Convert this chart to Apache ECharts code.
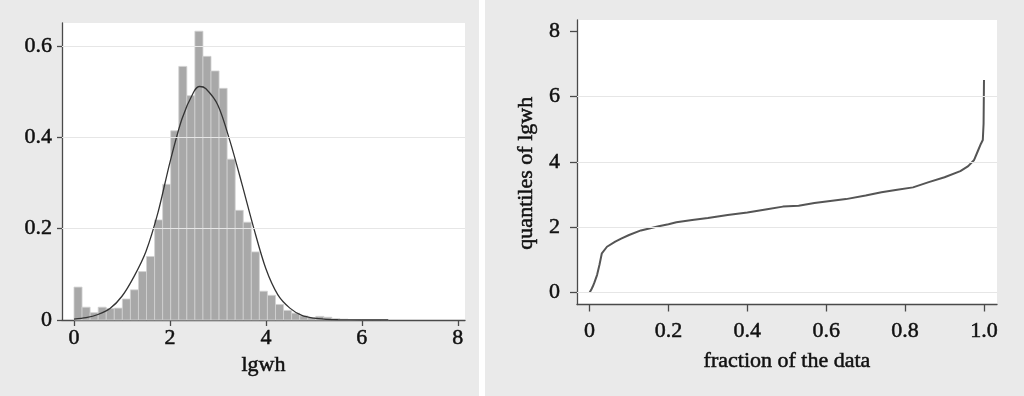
<!DOCTYPE html>
<html>
<head>
<meta charset="utf-8">
<script src="https://cdn.jsdelivr.net/npm/echarts@6/dist/echarts.min.js"></script>
<style>
html,body{margin:0;padding:0;background:#fff;}
#c{width:1024px;height:396px;}
</style>
</head>
<body>
<div id="c"></div>
<script>
// ---- data ----
const binWidth = 0.168;
const histDensity = [0.072,0.028,0.016,0.028,0.025,0.026,0.046,0.066,0.106,0.139,
  0.219,0.297,0.414,0.555,0.491,0.632,0.577,0.545,0.507,0.352,
  0.240,0.214,0.149,0.063,0.054,0.034,0.021,0.015,0.009,0.005,
  0.008,0.006,0.003,0.002,0.001,0.001,0.001,0.001,0.001];
const normalX = [0,0.25,0.5,0.75,1.0,1.25,1.5,1.75,2.0,2.25,2.5,2.62,2.75,3.0,3.25,3.5,3.75,4.0,4.25,4.5,4.75,5.0,5.25,5.5,6.0,6.55];
const normalY = [0.002,0.005,0.012,0.025,0.052,0.095,0.150,0.235,0.345,0.440,0.500,0.511,0.506,0.470,0.392,0.298,0.200,0.112,0.055,0.026,0.010,0.004,0.0015,0.0005,0.0,0.0];
const fraction = [0.0,0.004,0.008,0.012,0.019,0.025,0.031,0.044,0.065,0.08,0.10,0.13,0.175,0.2,0.22,0.26,0.30,0.35,0.40,0.45,0.49,0.53,0.57,0.60,0.65,0.70,0.74,0.78,0.82,0.86,0.90,0.94,0.96,0.975,0.985,0.992,0.997,0.999,1.0];
const quantile = [0.0,0.08,0.18,0.30,0.54,0.85,1.20,1.40,1.56,1.65,1.76,1.90,2.03,2.09,2.15,2.22,2.28,2.37,2.45,2.55,2.63,2.66,2.74,2.79,2.86,2.97,3.07,3.15,3.22,3.38,3.53,3.72,3.87,4.06,4.35,4.55,4.67,5.18,6.51];
const histXTicks = [0,2,4,6,8];
const histYTicks = [0,0.2,0.4,0.6];
const histGridVals = [0.2,0.4,0.6];
const qXTicks = [0,0.2,0.4,0.6,0.8,1.0];
const qYTicks = [0,2,4,6,8];
const qGridVals = [0,2,4,6];

// ---- build ----
const histData = histDensity.map((h,i)=>[i*binWidth,(i+1)*binWidth,h]);
const normalData = normalX.map((x,i)=>[x,normalY[i]]);
const qData = fraction.map((f,i)=>[f,quantile[i]]);

const FONT = 'Liberation Serif';
const axisCol = '#4a4a4a';
const txtCol = '#111';
const gridCol = '#e6e6e6';
const txt = (extra)=>Object.assign({fontFamily:FONT,fontSize:22,color:txtCol,textBorderColor:txtCol,textBorderWidth:0.5},extra||{});

function valAxis(opt){
  return Object.assign({
    type:'value',
    axisLine:{show:true,onZero:false,lineStyle:{color:axisCol,width:1.3}},
    splitLine:{show:false},
    nameTextStyle:txt(),
  },opt);
}
function gridSeries(xi,vals){
  return {type:'line',xAxisIndex:xi,yAxisIndex:xi,data:[],z:1,silent:true,
    markLine:{silent:true,symbol:['none','none'],label:{show:false},animation:false,
      lineStyle:{color:gridCol,width:1,type:'solid'},
      data:vals.map(v=>({yAxis:v}))}};
}
const fmt1 = v => v===0?'0':v.toFixed(1);

const chart = echarts.init(document.getElementById('c'),null,{renderer:'canvas'});
chart.setOption({
  animation:false,
  backgroundColor:'#ffffff',
  graphic:{elements:[
    {type:'rect',z:-100,shape:{x:0,y:0,width:479,height:396},style:{fill:'#eaeaea'}},
    {type:'rect',z:-100,shape:{x:485,y:0,width:539,height:396},style:{fill:'#eaeaea'}}
  ]},
  grid:[
    {left:62,right:1024-465,top:23,bottom:396-320,show:true,backgroundColor:'#fff',borderWidth:0},
    {left:577,right:1024-997,top:20,bottom:396-304.5,show:true,backgroundColor:'#fff',borderWidth:0}
  ],
  xAxis:[
    valAxis({gridIndex:0,min:-0.25,max:8.15,name:'lgwh',nameLocation:'middle',nameGap:28,
      axisTick:{show:true,length:6,customValues:histXTicks,lineStyle:{color:axisCol,width:1.3}},
      axisLabel:Object.assign({customValues:histXTicks,margin:7},txt())}),
    valAxis({gridIndex:1,min:-0.032,max:1.033,name:'fraction of the data',nameLocation:'middle',nameGap:46,
      axisTick:{show:true,length:7,customValues:qXTicks,lineStyle:{color:axisCol,width:1.3}},
      axisLabel:Object.assign({customValues:qXTicks,margin:16,formatter:fmt1},txt())})
  ],
  yAxis:[
    valAxis({gridIndex:0,min:0,max:0.65,
      axisTick:{show:true,length:5,customValues:histYTicks,lineStyle:{color:axisCol,width:1.3}},
      axisLabel:Object.assign({customValues:histYTicks,margin:10,formatter:fmt1},txt())}),
    valAxis({gridIndex:1,min:-0.37,max:8.35,name:'quantiles of lgwh',nameLocation:'middle',nameGap:40,
      nameTextStyle:txt({padding:[0,22,0,0]}),
      axisTick:{show:true,length:7,customValues:qYTicks,lineStyle:{color:axisCol,width:1.3}},
      axisLabel:Object.assign({customValues:qYTicks,margin:17},txt())})
  ],
  series:[
    gridSeries(0,histGridVals),
    gridSeries(1,qGridVals),
    {type:'custom',xAxisIndex:0,yAxisIndex:0,z:2,data:histData,encode:{x:[0,1],y:2},
      renderItem:function(params,api){
        const p0 = api.coord([api.value(0),api.value(2)]);
        const p1 = api.coord([api.value(1),0]);
        return {type:'rect',shape:{x:p0[0],y:p0[1],width:p1[0]-p0[0],height:p1[1]-p0[1]},
          style:{fill:'#a8a8a8',stroke:'#d2d2d2',lineWidth:0.8}};
      }},
    {type:'line',xAxisIndex:0,yAxisIndex:0,z:3,data:normalData,smooth:0.3,showSymbol:false,symbol:'none',
      lineStyle:{color:'#333',width:1.3}},
    {type:'line',xAxisIndex:1,yAxisIndex:1,z:3,data:qData,smooth:false,showSymbol:false,symbol:'none',
      lineStyle:{color:'#555',width:2}}
  ]
});
</script>
</body>
</html>
